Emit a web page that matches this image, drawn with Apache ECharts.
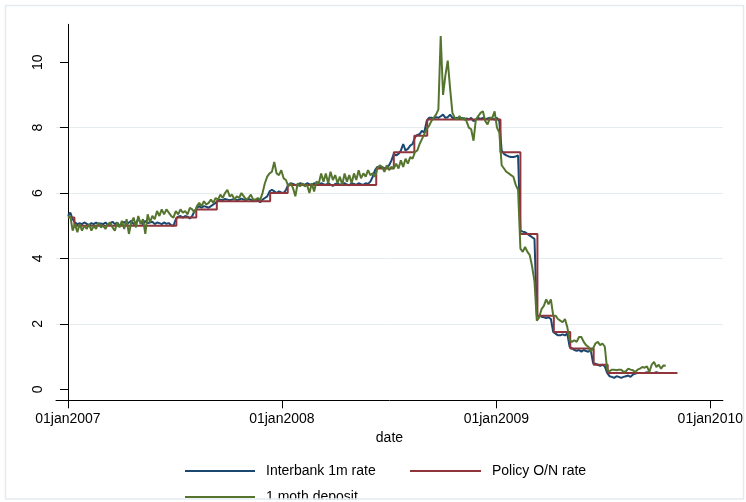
<!DOCTYPE html>
<html>
<head>
<meta charset="utf-8">
<script src="https://cdn.jsdelivr.net/npm/echarts@6.0.0/dist/echarts.min.js"></script>
<style>
  html, body { margin: 0; padding: 0; background: #fff; }
  #root { width: 746px; height: 502px; }
</style>
</head>
<body>
<div id="root"></div>
<script>
// tick labels
const xTickDates = ['2007-01-01', '2008-01-01', '2009-01-01', '2010-01-01']
const xTickLabels = ['01jan2007', '01jan2008', '01jan2009', '01jan2010']
const yTicks = [0, 2, 4, 6, 8, 10]

// Policy O/N rate: date of each change and the new level
const policyDates = ['2007-01-01', '2007-01-12', '2007-07-05', '2007-08-08', '2007-09-12',
  '2007-12-12', '2008-01-11', '2008-06-10', '2008-07-10', '2008-08-14', '2008-09-05',
  '2009-01-08', '2009-02-11', '2009-03-12', '2009-04-09', '2009-05-07', '2009-06-16',
  '2009-07-10', '2009-11-06']
const policyRates = [5.25, 5.0, 5.25, 5.5, 5.75, 6.0, 6.25, 6.75, 7.25, 7.75, 8.25,
  7.25, 4.75, 2.25, 1.75, 1.25, 0.75, 0.5, 0.5]

// the two market series are sampled every 4 days from 01jan2007
const sampleStart = '2007-01-01'
const sampleStep = 4

const interbankRates = [
  5.3, 5.4, 5.2, 5.1, 5.05, 5.08, 5.05, 5.1, 5.06, 5.02,
  5.08, 5.05, 5.1, 5.04, 5.07, 5.05, 5.1, 5.03, 5.08, 5.12,
  5.05, 5.1, 5.0, 5.08, 5.12, 5.04, 5.1, 5.15, 5.05, 5.1,
  5.2, 5.1, 5.05, 5.15, 5.08, 5.1, 5.12, 5.05, 5.1, 5.08,
  5.05, 5.1, 5.06, 5.08, 5.02, 5.0, 5.2, 5.28, 5.3, 5.25,
  5.3, 5.28, 5.22, 5.3, 5.45, 5.55, 5.6, 5.55, 5.6, 5.58,
  5.55, 5.6, 5.65, 5.7, 5.78, 5.8, 5.78, 5.82, 5.8, 5.78,
  5.8, 5.82, 5.78, 5.8, 5.83, 5.8, 5.78, 5.82, 5.8, 5.75,
  5.78, 5.8, 5.72, 5.8, 5.85, 5.9, 6.05, 6.1, 6.05, 6.0,
  6.05, 6.02, 6.0, 6.1, 6.25, 6.3, 6.28, 6.25, 6.22, 6.3,
  6.28, 6.25, 6.3, 6.27, 6.24, 6.3, 6.28, 6.25, 6.3, 6.27,
  6.25, 6.3, 6.26, 6.22, 6.28, 6.3, 6.25, 6.28, 6.3, 6.26,
  6.24, 6.3, 6.28, 6.25, 6.3, 6.27, 6.25, 6.3, 6.28, 6.35,
  6.5, 6.7, 6.8, 6.78, 6.8, 6.75, 6.78, 6.85, 7.0, 7.2,
  7.15, 7.2, 7.3, 7.5, 7.3, 7.35, 7.45, 7.5, 7.7, 7.78,
  7.8, 7.9, 7.85, 8.2, 8.3, 8.3, 8.28, 8.32, 8.3, 8.35,
  8.4, 8.3, 8.32, 8.4, 8.3, 8.28, 8.3, 8.27, 8.3, 8.25,
  8.28, 8.25, 8.3, 8.2, 8.25, 8.3, 8.27, 8.3, 8.25, 8.28,
  8.3, 8.27, 8.25, 8.3, 8.2, 7.3, 7.2, 7.15, 7.12, 7.1,
  7.1, 7.12, 7.15, 4.85, 4.82, 4.8, 4.75, 4.7, 4.65, 4.6,
  2.25, 2.25, 2.22, 2.2, 2.18, 2.2, 2.15, 1.75, 1.7, 1.65,
  1.65, 1.68, 1.65, 1.7, 1.3, 1.25, 1.2, 1.18, 1.2, 1.15,
  1.2, 1.17, 1.15, 1.2, 0.8, 0.78, 0.75, 0.72, 0.75, 0.7,
  0.5, 0.4, 0.38, 0.35, 0.4, 0.38, 0.35, 0.38, 0.4, 0.42,
  0.38, 0.45, 0.48, 0.5, 0.5, 0.5, 0.5, 0.52, 0.5, 0.5,
  0.5, 0.52, 0.5, 0.5, 0.5, 0.5
]

const depositRates = [
  5.25, 5.3, 4.85, 5.05, 4.8, 5.05, 4.85, 5.0, 4.9, 5.05,
  4.85, 5.0, 4.9, 5.1, 4.95, 5.0, 4.9, 5.05, 5.1, 4.95,
  4.85, 5.1, 4.95, 5.15, 4.9, 5.2, 4.75, 5.1, 5.25, 4.95,
  5.3, 5.05, 5.2, 4.75, 5.35, 5.1, 5.3, 5.2, 5.45, 5.3,
  5.5, 5.35, 5.5, 5.4, 5.3, 5.25, 5.45, 5.35, 5.5, 5.4,
  5.45, 5.35, 5.55, 5.5, 5.4, 5.6, 5.7, 5.6, 5.75, 5.65,
  5.7, 5.8, 5.7, 5.85, 5.8, 5.95, 5.85, 6.0, 6.1, 5.9,
  5.95, 5.8, 5.9, 5.85, 6.0, 5.9, 5.8, 5.85, 5.95, 5.8,
  5.8, 5.85, 5.8, 6.0, 6.3, 6.5, 6.6, 6.65, 6.95, 6.6,
  6.55, 6.7, 6.45, 6.4, 6.2, 6.3, 6.15, 5.9, 6.3, 6.2,
  6.3, 6.2, 6.25, 6.0, 6.3, 6.05, 6.35, 6.3, 6.6, 6.35,
  6.6, 6.3, 6.65, 6.4, 6.55, 6.3, 6.5, 6.25, 6.6, 6.35,
  6.55, 6.3, 6.6, 6.4, 6.7, 6.45, 6.6, 6.5, 6.7, 6.55,
  6.6, 6.5, 6.75, 6.85, 6.8, 6.65, 6.85, 6.7, 6.8, 6.75,
  6.9, 6.75, 7.0, 6.8, 7.05, 6.9, 7.1, 7.05, 7.25, 7.3,
  7.5, 7.65, 7.8, 7.95, 8.05, 8.2, 8.3, 8.4, 8.55, 10.8,
  9.0, 9.6, 10.05, 9.2, 8.45, 8.3, 8.25, 8.35, 8.25, 8.3,
  8.2, 8.0, 7.95, 7.6, 8.25, 8.35, 8.45, 8.5, 8.2, 8.1,
  8.3, 8.3, 8.5, 8.0, 7.85, 6.85, 6.75, 6.65, 6.6, 6.55,
  6.5, 6.25, 6.1, 4.3, 4.2, 4.35, 4.2, 4.1, 3.75, 3.3,
  2.1, 2.2, 2.45, 2.55, 2.75, 2.6, 2.75, 2.25, 2.25, 2.15,
  2.1, 2.05, 2.15, 1.9, 1.5, 1.45, 1.5, 1.45, 1.6, 1.6,
  1.45, 1.35, 1.3, 1.15, 1.25, 1.4, 1.45, 1.35, 1.4, 1.3,
  0.6, 0.55, 0.6, 0.6, 0.58, 0.6, 0.6, 0.53, 0.55, 0.63,
  0.6, 0.58, 0.53, 0.6, 0.63, 0.68, 0.66, 0.7, 0.53, 0.75,
  0.84, 0.68, 0.75, 0.63, 0.73, 0.72
]

const FONT = '"Liberation Sans", Arial, Helvetica, sans-serif'
const origin = Date.parse('2007-01-01T00:00:00Z')
const toDay = s => Math.round((Date.parse(s + 'T00:00:00Z') - origin) / 864e5)

const xTickDays = xTickDates.map(toDay)
const startDay = toDay(sampleStart)
const sampled = vals => vals.map((v, i) => [startDay + i * sampleStep, v])
const policyData = policyDates.map((d, i) => [toDay(d), policyRates[i]])

const myChart = echarts.init(document.getElementById('root'), null, { renderer: 'canvas' })

const legendText = { color: '#000', fontSize: 14, fontFamily: FONT, lineHeight: 16, padding: [0, 0, 0, 6] }

const option = {
  animation: false,
  backgroundColor: '#fff',
  textStyle: { fontFamily: FONT },
  grid: { left: 56, right: 20.5, top: 24.3, bottom: 101.7, containLabel: false },
  xAxis: {
    type: 'value',
    min: -20.4,
    max: 1117.5,
    name: 'date',
    nameLocation: 'middle',
    nameGap: 27,
    nameTextStyle: { color: '#000', fontSize: 14, fontFamily: FONT },
    axisLine: { show: true, onZero: false, lineStyle: { color: '#000', width: 1 } },
    axisTick: { show: true, length: 8, customValues: xTickDays, lineStyle: { color: '#000' } },
    axisLabel: {
      customValues: xTickDays,
      margin: 12,
      color: '#000',
      fontSize: 14,
      fontFamily: FONT,
      formatter: v => xTickLabels[xTickDays.indexOf(v)] || ''
    },
    splitLine: { show: false }
  },
  yAxis: {
    type: 'value',
    min: -0.337,
    max: 11.16,
    axisLine: { show: true, lineStyle: { color: '#000', width: 1 } },
    axisTick: { show: true, length: 8, customValues: yTicks, lineStyle: { color: '#000' } },
    axisLabel: {
      customValues: yTicks,
      rotate: 90,
      margin: 11,
      color: '#000',
      fontSize: 14,
      fontFamily: FONT
    },
    splitLine: {
      show: true,
      showMinLine: false,
      showMaxLine: false,
      lineStyle: { color: '#e4ecf0', width: 1 }
    }
  },
  legend: [
    {
      data: ['Interbank 1m rate', '1 moth deposit'],
      orient: 'vertical',
      left: 185,
      top: 463,
      height: 80,
      padding: 0,
      icon: 'rect',
      itemWidth: 70,
      itemHeight: 2,
      itemGap: 10,
      textStyle: legendText
    },
    {
      data: ['Policy O/N rate'],
      orient: 'vertical',
      left: 410,
      top: 463,
      height: 80,
      padding: 0,
      icon: 'rect',
      itemWidth: 71,
      itemHeight: 2,
      textStyle: legendText
    }
  ],
  series: [
    {
      name: 'Interbank 1m rate',
      type: 'line',
      data: sampled(interbankRates),
      symbol: 'none',
      lineStyle: { color: '#1a476f', width: 2 },
      itemStyle: { color: '#1a476f' }
    },
    {
      name: 'Policy O/N rate',
      type: 'line',
      step: 'end',
      data: policyData,
      symbol: 'none',
      lineStyle: { color: '#90353b', width: 2 },
      itemStyle: { color: '#90353b' }
    },
    {
      name: '1 moth deposit',
      type: 'line',
      data: sampled(depositRates),
      symbol: 'none',
      lineStyle: { color: '#55752f', width: 2 },
      itemStyle: { color: '#55752f' }
    }
  ],
  graphic: [
    {
      type: 'rect',
      z: 100,
      silent: true,
      shape: { x: 0, y: 499.5, width: 746, height: 4 },
      style: { fill: '#fff' }
    },
    {
      type: 'rect',
      z: 101,
      silent: true,
      shape: { x: 5.5, y: 5.5, width: 738, height: 493.5 },
      style: { fill: 'none', stroke: '#e3ebef', lineWidth: 1.5 }
    }
  ]
}

myChart.setOption(option)
</script>
</body>
</html>
